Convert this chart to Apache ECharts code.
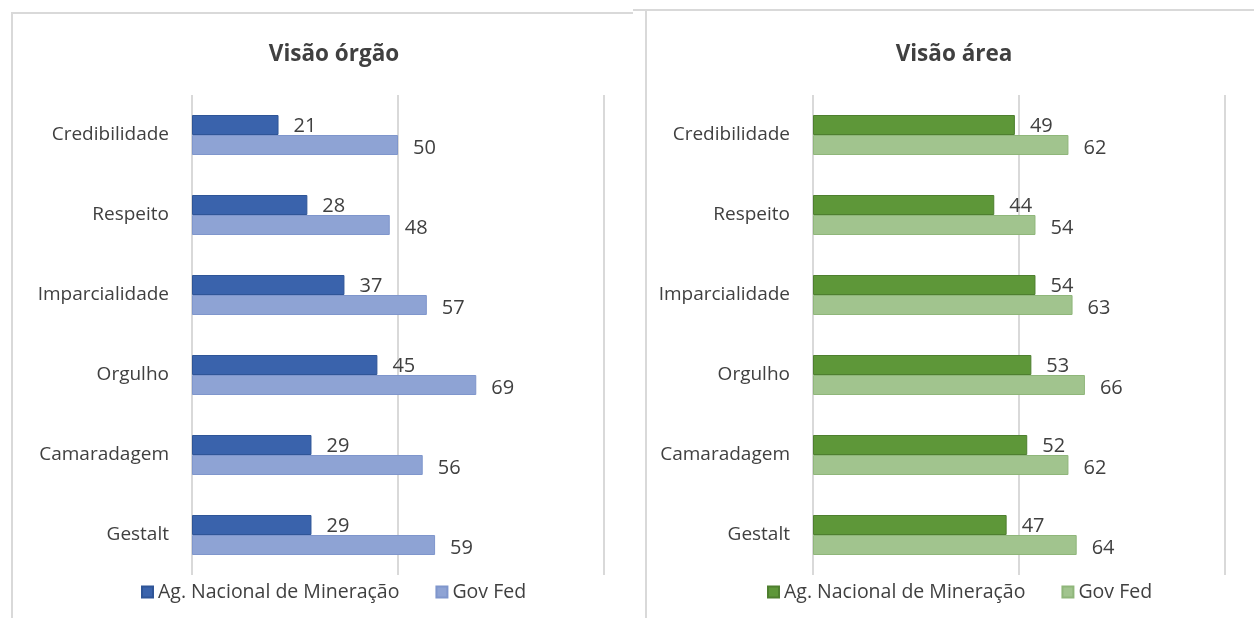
<!DOCTYPE html>
<html>
<head>
<meta charset="utf-8">
<script src="https://cdn.jsdelivr.net/npm/echarts@6/dist/echarts.min.js"></script>
<style>
html,body{margin:0;padding:0;background:#fff;width:1254px;height:618px;overflow:hidden;position:relative;}
#c1{position:absolute;left:0;top:0;width:646px;height:618px;}
#c2{position:absolute;left:646px;top:0;width:608px;height:618px;}
.b{position:absolute;background:#d9d9d9;}
</style>
</head>
<body>
<div id="c1"></div>
<div id="c2"></div>
<div class="b" style="left:11px;top:12px;width:622px;height:2px;"></div>
<div class="b" style="left:11px;top:12px;width:2px;height:606px;"></div>
<div class="b" style="left:633px;top:9px;width:621px;height:2px;"></div>
<div class="b" style="left:645px;top:9px;width:2px;height:609px;"></div>
<script>
const categories = ['Credibilidade','Respeito','Imparcialidade','Orgulho','Camaradagem','Gestalt'];
const seriesNames = ['Ag. Nacional de Mineração','Gov Fed'];
const orgaoAgencia = [21,28,37,45,29,29];
const orgaoGovFed = [50,48,57,69,56,59];
const areaAgencia = [49,44,54,53,52,47];
const areaGovFed = [62,54,63,66,62,64];
const titles = ['Visão órgão','Visão área'];

const FONT = '"Open Sans", "Noto Sans", sans-serif';
const TXT = '#404040';

function makeOption(title, titleCenter, gridLeft, legendLeft, a, b, colA, colB, borA, borB){
  return {
    animation:false,
    textStyle:{fontFamily:FONT},
    title:{text:title,left:titleCenter,textAlign:'center',top:38,textStyle:{fontFamily:FONT,fontSize:22.5,fontWeight:'bold',color:TXT}},
    legend:{left:legendLeft,top:577,itemWidth:11,itemHeight:11,itemGap:36,icon:'rect',
      textStyle:{fontFamily:FONT,fontSize:19.5,color:TXT},data:seriesNames},
    grid:{left:gridLeft,width:412,top:95,height:480,containLabel:false},
    xAxis:{type:'value',min:0,max:100,interval:50,
      axisLabel:{show:false},axisLine:{show:false},axisTick:{show:false},
      splitLine:{show:true,lineStyle:{color:'#d9d9d9',width:2}}},
    yAxis:{type:'category',data:categories,inverse:true,
      axisLine:{show:false},axisTick:{show:false},
      axisLabel:{margin:23,fontFamily:FONT,fontSize:19,color:TXT}},
    series:[
      {name:seriesNames[0],type:'bar',data:a,barWidth:20,barGap:'0%',
       itemStyle:{color:colA,borderColor:borA,borderWidth:1},
       label:{show:true,position:'right',distance:15,fontFamily:FONT,fontSize:20,color:TXT,offset:[0,1]}},
      {name:seriesNames[1],type:'bar',data:b,barWidth:20,barGap:'0%',
       itemStyle:{color:colB,borderColor:borB,borderWidth:1},
       label:{show:true,position:'right',distance:15,fontFamily:FONT,fontSize:20,color:TXT,offset:[0,3]}}
    ]
  };
}

const c1 = echarts.init(document.getElementById('c1'),null,{renderer:'canvas'});
c1.setOption(makeOption(titles[0],329,192,136,orgaoAgencia,orgaoGovFed,'#3a63ac','#8ea3d4','#2f5597','#7f96cc'));
const c2 = echarts.init(document.getElementById('c2'),null,{renderer:'canvas'});
c2.setOption(makeOption(titles[1],303,167,116,areaAgencia,areaGovFed,'#5e9739','#a1c48e','#4e7f2f','#8fb67a'));
</script>
</body>
</html>
